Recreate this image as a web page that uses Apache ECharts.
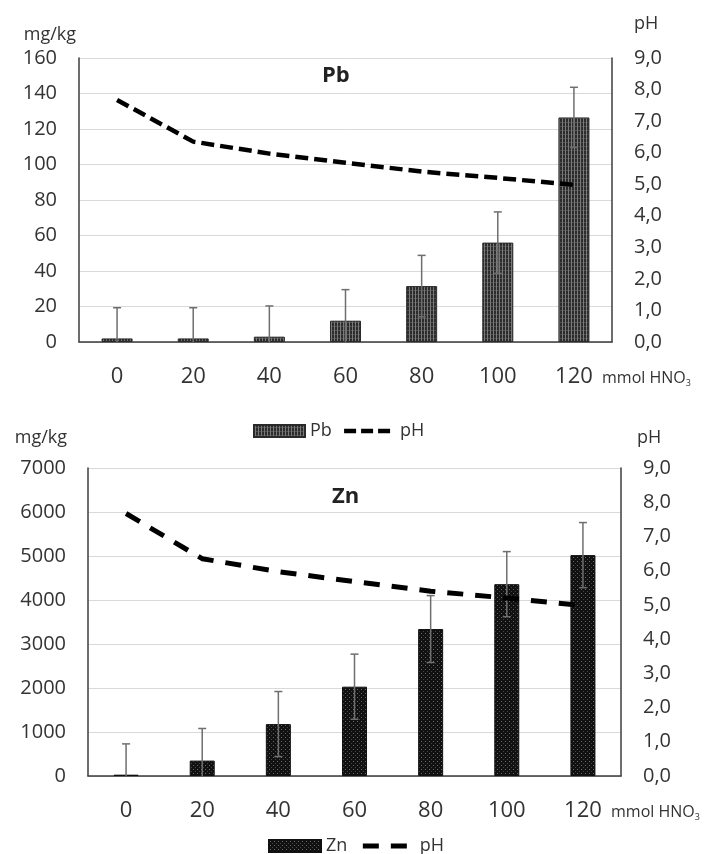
<!DOCTYPE html>
<html>
<head>
<meta charset="utf-8">
<script src="https://cdn.jsdelivr.net/npm/echarts@6/dist/echarts.min.js"></script>
<style>
  html, body { margin: 0; padding: 0; background: #fff; }
  #main { width: 724px; height: 854px; }
</style>
</head>
<body>
<div id="main"></div>
<script>
var myChart = echarts.init(document.getElementById('main'));

// mmol HNO3 added
var doses = ['0', '20', '40', '60', '80', '100', '120'];

// Pb, mg/kg, with error
var pbValues = [2, 2, 3, 12, 31.5, 56, 126.5];
var pbErr = [17.3, 17.3, 17.3, 17.5, 17.3, 17.3, 17];

// Zn, mg/kg, with error
var znValues = [30, 350, 1180, 2030, 3340, 4360, 5020];
var znErr = [700, 730, 740, 740, 760, 740, 740];

// pH of the extract
var phValues = [7.67, 6.35, 5.97, 5.68, 5.4, 5.2, 4.98];

var font = 'Open Sans';
var textColor = '#333';

function pattern(w, h, draw) {
    var c = document.createElement('canvas');
    c.width = w; c.height = h;
    draw(c.getContext('2d'));
    return { image: c, repeat: 'repeat' };
}
var pbFill = pattern(3, 4, function (g) {
    g.fillStyle = '#2c2c2c'; g.fillRect(0, 0, 3, 4);
    g.fillStyle = '#7a7a7a'; g.fillRect(1, 0, 1, 4);
    g.fillStyle = 'rgba(120,120,120,0.45)'; g.fillRect(0, 2, 3, 1);
});
var znFill = pattern(4, 4, function (g) {
    g.fillStyle = '#111'; g.fillRect(0, 0, 4, 4);
    g.fillStyle = '#6a6a6a'; g.fillRect(1, 1, 1, 1);
    g.fillStyle = '#444'; g.fillRect(3, 3, 1, 1);
});

function errData(vals, errs) {
    return vals.map(function (v, i) {
        return [i, Math.max(0, v - errs[i]), v + errs[i], v - errs[i] > 0 ? 1 : 0];
    });
}

function errRender(params, api) {
    var top = api.coord([api.value(0), api.value(2)]);
    var bot = api.coord([api.value(0), api.value(1)]);
    var st = { stroke: '#6e6e6e', lineWidth: 1.5 };
    var kids = [
        { type: 'line', shape: { x1: top[0], y1: top[1], x2: bot[0], y2: bot[1] }, style: st },
        { type: 'line', shape: { x1: top[0] - 4, y1: top[1], x2: top[0] + 4, y2: top[1] }, style: st }
    ];
    if (api.value(3)) {
        kids.push({ type: 'line', shape: { x1: bot[0] - 4, y1: bot[1], x2: bot[0] + 4, y2: bot[1] }, style: st });
    }
    return { type: 'group', children: kids };
}

function commaFmt(v) { return v.toFixed(1).replace('.', ','); }

function bottomAxis(gi) {
    return {
        gridIndex: gi, type: 'category', data: doses, position: 'bottom',
        axisLine: { lineStyle: { color: '#c8c8c8', width: 1 } },
        axisTick: { show: false },
        axisLabel: { fontSize: 22, color: textColor, fontFamily: font, margin: 24 },
        name: '{a|mmol HNO}{s|3}',
        nameLocation: 'end', nameGap: -10,
        nameTextStyle: {
            verticalAlign: 'top', padding: [27, 0, 0, 0],
            rich: {
                a: { fontSize: 16, color: textColor, fontFamily: font },
                s: { fontSize: 9, color: textColor, fontFamily: font, padding: [10, 0, 0, 0] }
            }
        }
    };
}
function topAxis(gi) {
    return {
        gridIndex: gi, type: 'category', data: doses, position: 'top',
        axisLine: { lineStyle: { color: '#3c3c3c', width: 1.5 } },
        axisTick: { show: false }, axisLabel: { show: false }
    };
}
function leftAxis(gi, max, step, nameGap, namePad) {
    return {
        gridIndex: gi, type: 'value', position: 'left', min: 0, max: max, interval: step,
        axisLine: { show: true, lineStyle: { color: '#3c3c3c', width: 1.5 } },
        axisTick: { show: false },
        axisLabel: { fontSize: 20, color: textColor, fontFamily: font, margin: 22, formatter: function (v) { return String(v); } },
        splitLine: { lineStyle: { color: '#d9d9d9', width: 1 } },
        name: 'mg/kg', nameLocation: 'end', nameGap: nameGap,
        nameTextStyle: { fontSize: 18, color: textColor, fontFamily: font, align: 'right', padding: [0, namePad, 0, 0] }
    };
}
function rightAxis(gi, nameGap, namePad) {
    return {
        gridIndex: gi, type: 'value', position: 'right', min: 0, max: 9, interval: 1,
        axisLine: { show: true, lineStyle: { color: '#3c3c3c', width: 1.5 } },
        axisTick: { show: false },
        axisLabel: { fontSize: 20, color: textColor, fontFamily: font, margin: 22, formatter: commaFmt },
        splitLine: { show: false },
        name: 'pH', nameLocation: 'end', nameGap: nameGap,
        nameTextStyle: { fontSize: 18, color: textColor, fontFamily: font, align: 'left', padding: [0, 0, 0, namePad] }
    };
}

var hiddenSymbol = { color: 'rgba(0,0,0,0)', borderWidth: 0 };

var option = {
    backgroundColor: '#fff',
    animation: false,
    title: [
        { text: 'Pb', left: 322, top: 65, padding: 0, textStyle: { fontSize: 22, fontWeight: 'bold', color: '#222', fontFamily: font } },
        { text: 'Zn', left: 332, top: 486, padding: 0, textStyle: { fontSize: 22, fontWeight: 'bold', color: '#222', fontFamily: font } }
    ],
    legend: [
        {
            left: 253, top: 422, padding: 0, itemWidth: 51, itemHeight: 12, itemGap: 10,
            textStyle: { fontSize: 18, color: textColor, fontFamily: font },
            data: [{ name: 'Pb', icon: 'rect' }, { name: 'pH', itemStyle: hiddenSymbol, lineStyle: { type: [12, 5], width: 4.5, color: '#000' } }]
        },
        {
            left: 268, top: 837, padding: 0, itemWidth: 52, itemHeight: 12, itemGap: 13,
            textStyle: { fontSize: 18, color: textColor, fontFamily: font },
            data: [{ name: 'Zn', icon: 'rect' }, { name: 'pH', itemStyle: hiddenSymbol, lineStyle: { type: [16, 12], width: 5, color: '#000' } }]
        }
    ],
    grid: [
        { left: 79, top: 58, width: 533, height: 284, outerBoundsMode: 'none' },
        { left: 88, top: 468, width: 533, height: 308, outerBoundsMode: 'none' }
    ],
    xAxis: [bottomAxis(0), topAxis(0), bottomAxis(1), topAxis(1)],
    yAxis: [leftAxis(0, 160, 20, 14, 3), rightAxis(0, 25, 22), leftAxis(1, 7000, 1000, 21, 21), rightAxis(1, 21, 16)],
    series: [
        {
            name: 'Pb', type: 'bar', xAxisIndex: 0, yAxisIndex: 0, data: pbValues, barWidth: 31,
            itemStyle: { color: pbFill, borderColor: '#2a2a2a', borderWidth: 1 }
        },
        {
            name: 'Pb err', type: 'custom', xAxisIndex: 0, yAxisIndex: 0, data: errData(pbValues, pbErr),
            renderItem: errRender, z: 3, silent: true
        },
        {
            name: 'pH', type: 'line', xAxisIndex: 0, yAxisIndex: 1, data: phValues, symbol: 'none', z: 4,
            lineStyle: { color: '#000', width: 4.5, type: [13, 6] }, itemStyle: { color: '#000' }
        },
        {
            name: 'Zn', type: 'bar', xAxisIndex: 2, yAxisIndex: 2, data: znValues, barWidth: 25,
            itemStyle: { color: znFill, borderColor: '#111', borderWidth: 1 }
        },
        {
            name: 'Zn err', type: 'custom', xAxisIndex: 2, yAxisIndex: 2, data: errData(znValues, znErr),
            renderItem: errRender, z: 3, silent: true
        },
        {
            name: 'pH', type: 'line', xAxisIndex: 2, yAxisIndex: 3, data: phValues, symbol: 'none', z: 4,
            lineStyle: { color: '#000', width: 5, type: [16, 12] }, itemStyle: { color: '#000' }
        }
    ]
};

myChart.setOption(option);
</script>
</body>
</html>
